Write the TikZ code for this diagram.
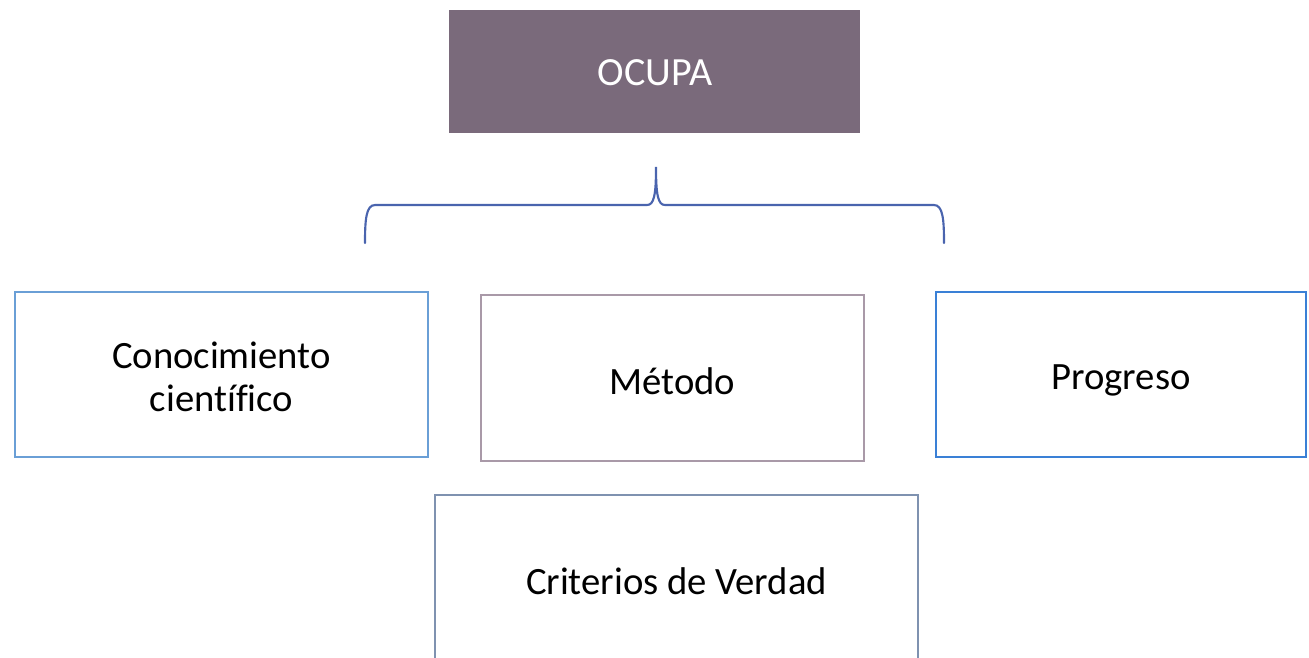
\documentclass[tikz,border=0pt]{standalone}
\usepackage{fontspec}
\setmainfont[Ligatures=NoCommon]{Carlito}
\definecolor{ocupa}{HTML}{7A6A7B}
\definecolor{bconoc}{HTML}{6A9FD6}
\definecolor{bmetodo}{HTML}{A999A8}
\definecolor{bprog}{HTML}{3A80D6}
\definecolor{bcrit}{HTML}{7F92B0}
\definecolor{brace}{HTML}{4A64AE}
\begin{document}
\begin{tikzpicture}[x=0.75pt,y=-0.75pt,
  lbl/.style={font=\fontsize{29}{32}\selectfont, align=center, inner sep=0pt}]
\useasboundingbox (0,0) rectangle (1309,657);
\clip (0,0) rectangle (1309,657);
\fill[ocupa] (449,10) rectangle (860,133);
\node[lbl, text=white, font=\fontsize{30}{32}\selectfont] (ocupa) at (655,73) {OCUPA};
\draw[bconoc, line width=1.6pt] (15,292) rectangle (428,457);
\node[lbl] (conoc) at (221.5,377) {Conocimiento\\científico};
\draw[bmetodo, line width=1.6pt] (481,295) rectangle (864,461);
\node[lbl] (metodo) at (672.5,381) {Método};
\draw[bprog, line width=1.6pt] (936,292) rectangle (1306,457);
\node[lbl] (prog) at (1121,380) {Progreso};
\draw[bcrit, line width=1.6pt] (435,495) rectangle (918,680);
\node[lbl] (crit) at (676.5,581) {Criterios de Verdad};
\coordinate (bl) at (365,243);
\coordinate (bt) at (656,167);
\coordinate (br) at (944,243);
\draw[brace, line width=1.6pt, line cap=round]
  (bl) .. controls (365,220) and (366,205) .. (375,205)
  -- (647,205) .. controls (654,205) and (656,195) .. (bt)
  .. controls (656,195) and (658,205) .. (665,205)
  -- (934,205) .. controls (943,205) and (944,220) .. (br);
\end{tikzpicture}
\end{document}
